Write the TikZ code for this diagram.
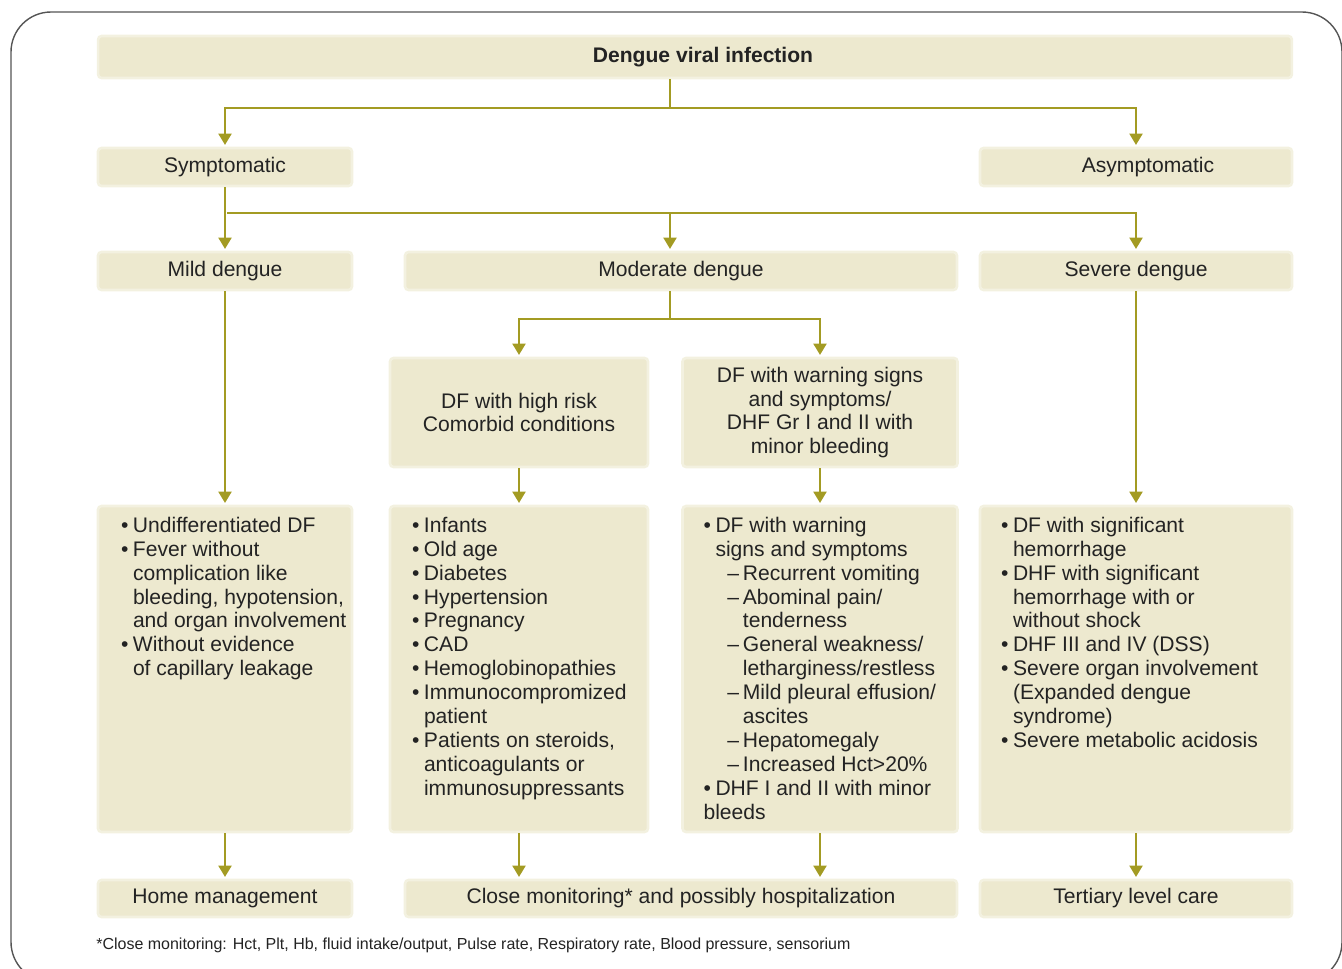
\documentclass[tikz,border=0pt]{standalone}
\usepackage{fontspec}
\setmainfont{Liberation Sans}
\usetikzlibrary{arrows.meta}

\definecolor{boxfill}{RGB}{237,233,207}
\definecolor{arrowgold}{RGB}{163,155,35}
\definecolor{inktext}{RGB}{35,35,35}
\definecolor{framegray}{RGB}{85,85,85}

\newcommand{\lbfont}{\fontsize{12}{13.6}\selectfont}
\newcommand{\ftfont}{\fontsize{9.1}{10.5}\selectfont}
% bullets, dashes and their hanging indents
\newcommand{\bl}{\makebox[6.8pt][l]{\textbullet}}
\newcommand{\bi}{\hspace*{6.8pt}}
\newcommand{\dl}{\hspace*{13.6pt}\makebox[8.8pt][l]{--}}
\newcommand{\di}{\hspace*{22.4pt}}

\tikzset{
  box/.style={fill=boxfill, draw=boxfill!65, line width=1.5pt, inner sep=0pt, rounded corners=2pt, text=inktext, font=\lbfont},
  list/.style={anchor=north west, inner sep=0pt, align=left, text=inktext, font=\lbfont},
  ln/.style={draw=arrowgold, line width=1.1pt},
  arr/.style={ln, -{Triangle[width=7.5pt,length=6.5pt]}, shorten >=1pt},
}

\begin{document}
\begin{tikzpicture}[x=0.02cm, y=-0.02cm]
\useasboundingbox (0,0) rectangle (1342,968);
\clip (0,0) rectangle (1342,968);
\draw[framegray, line width=0.8pt, rounded corners=40*0.02cm] (11,12) rectangle (1342,982);

% first two rows
\node[box, minimum width=23.88cm, minimum height=0.84cm, font=\lbfont\bfseries] (top) at (695,57) {\hspace*{0.32cm}Dengue viral infection};
\node[box, minimum width=5.08cm, minimum height=0.76cm] (sym) at (225,167) {Symptomatic};
\node[box, minimum width=6.24cm, minimum height=0.76cm] (asym) at (1136,167) {\hspace*{0.48cm}Asymptomatic};
\node[box, minimum width=5.08cm, minimum height=0.76cm] (mild) at (225,271) {Mild dengue};
\node[box, minimum width=11.04cm, minimum height=0.76cm] (mod) at (681,271) {Moderate dengue};
\node[box, minimum width=6.24cm, minimum height=0.76cm] (sev) at (1136,271) {Severe dengue};

% moderate splits in two
\node[box, minimum width=5.16cm, minimum height=2.18cm, align=center] (risk) at (519,412.5) {DF with high risk\\Comorbid conditions};
\node[box, minimum width=5.50cm, minimum height=2.18cm, align=center] (warn) at (820,412.5) {DF with warning signs\\and symptoms/\\DHF Gr I and II with\\minor bleeding};

% lists
\node[box, minimum width=5.08cm, minimum height=6.52cm] (mildl) at (225,669) {};
\node[box, minimum width=5.16cm, minimum height=6.52cm] (riskl) at (519,669) {};
\node[box, minimum width=5.50cm, minimum height=6.52cm] (warnl) at (820,669) {};
\node[box, minimum width=6.24cm, minimum height=6.52cm] (sevl) at (1136,669) {};

\node[list] (mildt) at ([shift={(24,12)}]mildl.north west) {%
\bl Undifferentiated DF\\
\bl Fever without\\
\bi complication like\\
\bi bleeding, hypotension,\\
\bi and organ involvement\\
\bl Without evidence\\
\bi of capillary leakage};
\node[list] (riskt) at ([shift={(23,12)}]riskl.north west) {%
\bl Infants\\
\bl Old age\\
\bl Diabetes\\
\bl Hypertension\\
\bl Pregnancy\\
\bl CAD\\
\bl Hemoglobinopathies\\
\bl Immunocompromized\\
\bi patient\\
\bl Patients on steroids,\\
\bi anticoagulants or\\
\bi immunosuppressants};
\node[list] (warnt) at ([shift={(22,12)}]warnl.north west) {%
\bl DF with warning\\
\bi signs and symptoms\\
\dl Recurrent vomiting\\
\dl Abominal pain/\\
\di tenderness\\
\dl General weakness/\\
\di letharginess/restless\\
\dl Mild pleural effusion/\\
\di ascites\\
\dl Hepatomegaly\\
\dl Increased Hct>20\%\\
\bl DHF I and II with minor\\
bleeds};
\node[list] (sevt) at ([shift={(22,12)}]sevl.north west) {%
\bl DF with significant\\
\bi hemorrhage\\
\bl DHF with significant\\
\bi hemorrhage with or\\
\bi without shock\\
\bl DHF III and IV (DSS)\\
\bl Severe organ involvement\\
\bi (Expanded dengue\\
\bi syndrome)\\
\bl Severe metabolic acidosis};

% outcomes
\node[box, minimum width=5.08cm, minimum height=0.74cm] (home) at (225,898.5) {Home management};
\node[box, minimum width=11.04cm, minimum height=0.74cm] (close) at (681,898.5) {Close monitoring* and possibly hospitalization};
\node[box, minimum width=6.24cm, minimum height=0.74cm] (tert) at (1136,898.5) {Tertiary level care};

\node[anchor=west, inner sep=0pt, text=inktext, font=\ftfont] (note) at (96,945) {*Close monitoring: Hct, Plt, Hb, fluid intake/output, Pulse rate, Respiratory rate, Blood pressure, sensorium};

% connectors
\coordinate (j1) at (670,108);
\coordinate (s1) at (227,213);
\coordinate (m1) at (670,213);
\coordinate (m2) at (670,319);
\draw[ln] (j1 |- top.south) -- (j1);
\draw[arr] (j1) -| (sym);
\draw[arr] (j1) -| (asym);
\draw[arr] (sym) -- (mild);
\draw[arr] (s1) -| (sev);
\draw[arr] (m1) -- (m1 |- mod.north);
\draw[ln] (m2 |- mod.south) -- (m2);
\draw[arr] (m2) -| (risk);
\draw[arr] (m2) -| (warn);
\draw[arr] (mild) -- (mildl);
\draw[arr] (risk) -- (riskl);
\draw[arr] (warn) -- (warnl);
\draw[arr] (sev) -- (sevl);
\draw[arr] (mildl) -- (home);
\draw[arr] (riskl) -- (riskl |- close.north);
\draw[arr] (warnl) -- (warnl |- close.north);
\draw[arr] (sevl) -- (tert);
\end{tikzpicture}
\end{document}
